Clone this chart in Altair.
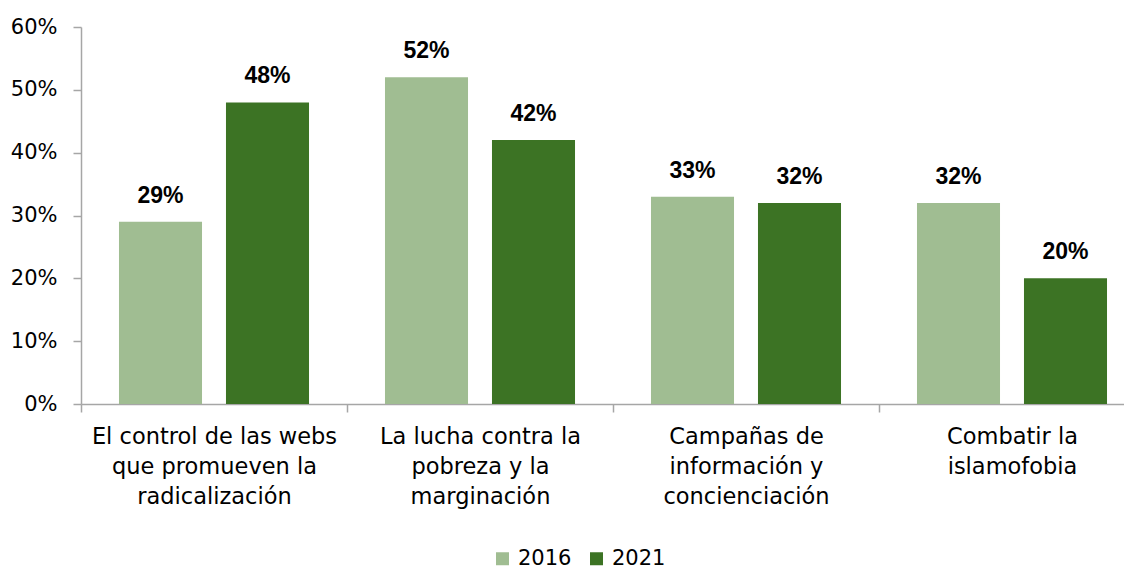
import altair as alt
import pandas as pd

categories = [
    "El control de las webs|que promueven la|radicalización",
    "La lucha contra la|pobreza y la|marginación",
    "Campañas de|información y|concienciación",
    "Combatir la|islamofobia",
]
years = ["2016", "2021"]
values_2016 = [0.29, 0.52, 0.33, 0.32]
values_2021 = [0.48, 0.42, 0.32, 0.20]
colors = ["#A0BD92", "#3C7324"]

rows = []
for c, v1, v2 in zip(categories, values_2016, values_2021):
    rows.append({"cat": c, "year": "2016", "value": v1})
    rows.append({"cat": c, "year": "2021", "value": v2})
df = pd.DataFrame(rows)

FONT = "DejaVu Sans"
BOLD_FONT = "Liberation Sans"

x = alt.X(
    "cat:N",
    sort=categories,
    title=None,
    scale=alt.Scale(paddingInner=0, paddingOuter=0, range=[0, 1064]),
    axis=alt.Axis(
        labelExpr="split(datum.label, '|')",
        labelAngle=0,
        labelFontSize=22.5,
        labelFont=FONT,
        labelColor="#000000",
        labelLineHeight=30,
        labelPadding=13,
        labelLimit=400,
        tickBand="extent",
        tickSize=8,
        tickColor="#A6A6A6",
        domainColor="#A6A6A6",
        domainWidth=1.5,
        tickWidth=1.5,
    ),
)
xo = alt.XOffset(
    "year:N",
    sort=years,
    scale=alt.Scale(paddingInner=0.224, paddingOuter=0.355),
)
y = alt.Y(
    "value:Q",
    title=None,
    scale=alt.Scale(domain=[0, 0.6], nice=False),
    axis=alt.Axis(
        format=".0%",
        values=[0, 0.1, 0.2, 0.3, 0.4, 0.5, 0.6],
        grid=False,
        labelFontSize=21,
        labelFont=FONT,
        labelColor="#000000",
        labelPadding=16,
        tickSize=8,
        tickColor="#A6A6A6",
        domainColor="#A6A6A6",
        domainWidth=1.5,
        tickWidth=1.5,
    ),
)

bars = alt.Chart(df).mark_bar().encode(
    x=x,
    xOffset=xo,
    y=y,
    color=alt.Color(
        "year:N",
        sort=years,
        scale=alt.Scale(domain=years, range=colors),
        legend=alt.Legend(
            title=None,
            orient="none",
            legendX=411,
            legendY=521,
            direction="horizontal",
            symbolType="square",
            symbolSize=169,
            symbolStrokeWidth=0,
            labelFontSize=21,
            labelFont=FONT,
            labelColor="#000000",
            labelOffset=5,
            columnPadding=14,
        ),
    ),
)

labels = alt.Chart(df).mark_text(
    baseline="alphabetic", dy=-19, fontSize=23, fontWeight="bold", font=BOLD_FONT, color="#000000"
).encode(
    x=x,
    xOffset=xo,
    y=y,
    text=alt.Text("value:Q", format=".0%"),
)

chart = alt.layer(bars, labels).properties(
    width=1043,
    height=377,
    autosize=alt.AutoSizeParams(type="none"),
    padding={"left": 73, "top": 19, "right": 0, "bottom": 165},
).configure_view(stroke=None)

chart.save("out.html", embed_options={"renderer": "svg", "actions": False})
